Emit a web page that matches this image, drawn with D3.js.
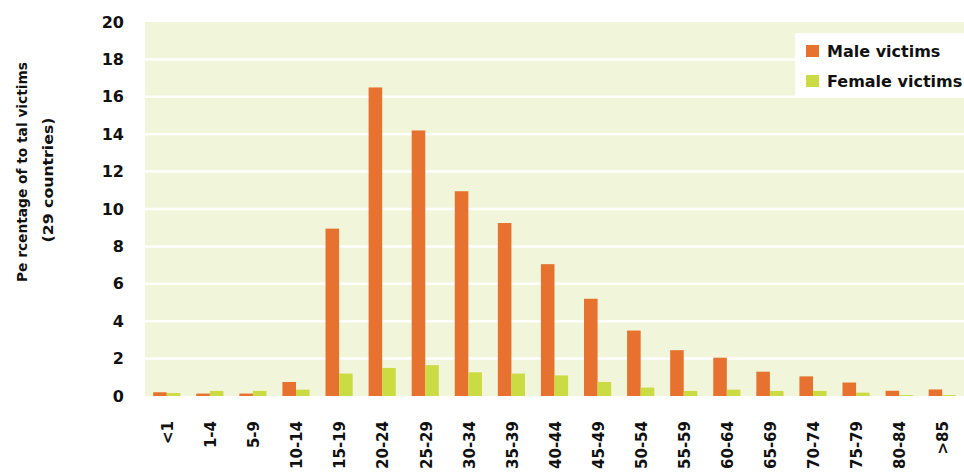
<!DOCTYPE html>
<html>
<head>
<meta charset="utf-8">
<script src="https://cdn.jsdelivr.net/npm/d3@7"></script>
<style>
  body { margin: 0; background: #fff; }
  text { font-family: "DejaVu Sans", sans-serif; font-weight: bold; fill: #111; }
</style>
</head>
<body>
<div id="viz"></div>
<script>
// age groups and shares of total victims (%)
var ageGroups = ["<1","1-4","5-9","10-14","15-19","20-24","25-29","30-34","35-39","40-44",
                 "45-49","50-54","55-59","60-64","65-69","70-74","75-79","80-84",">85"];
var maleValues   = [0.2, 0.13, 0.13, 0.75, 8.95, 16.5, 14.2, 10.95, 9.25, 7.05,
                    5.2, 3.5, 2.45, 2.05, 1.3, 1.05, 0.72, 0.28, 0.35];
var femaleValues = [0.16, 0.27, 0.27, 0.34, 1.2, 1.5, 1.65, 1.27, 1.2, 1.1,
                    0.75, 0.45, 0.27, 0.34, 0.27, 0.27, 0.18, 0.05, 0.05];
var seriesNames  = ["Male victims", "Female victims"];
var yTicks = [0, 2, 4, 6, 8, 10, 12, 14, 16, 18, 20];

var width = 964, height = 472;
var margin = {top: 22, right: 0, bottom: 76, left: 145};

var colors = ["#e7722f", "#cbdb43"];

var svg = d3.select("#viz")
            .append("svg")
            .attr("width", width)
            .attr("height", height);

var x0 = d3.scaleBand()
    .domain(ageGroups)
    .range([margin.left, width - margin.right])
    .paddingInner(0.37)
    .paddingOuter(0.19);

var x1 = d3.scaleBand()
    .domain([0, 1])
    .range([0, x0.bandwidth()]);

var y = d3.scaleLinear()
    .domain([0, 20])
    .range([height - margin.bottom, margin.top]);

// plot background
svg.append("rect")
    .attr("x", margin.left)
    .attr("y", y(20))
    .attr("width", width - margin.right - margin.left)
    .attr("height", y(0) - y(20))
    .style("fill", "#f1f5d9");

// white gridlines
svg.append("g")
    .selectAll("line")
    .data(yTicks.filter(function(d) { return d > 0 && d < 20; }))
  .enter().append("line")
    .attr("x1", margin.left)
    .attr("x2", width - margin.right)
    .attr("y1", function(d) { return y(d); })
    .attr("y2", function(d) { return y(d); })
    .style("stroke", "#fff")
    .style("stroke-width", 2.5);

// y axis labels
var yAxis = d3.axisLeft(y).tickValues(yTicks).tickSize(0).tickPadding(0);
svg.append("g")
    .attr("transform", "translate(" + (margin.left - 21) + ",0)")
    .call(yAxis)
    .call(function(g) { g.select(".domain").remove(); })
    .selectAll("text")
      .style("font-size", "16px")
      .style("font-family", "'DejaVu Sans', sans-serif")
      .style("font-weight", "bold")
      .style("fill", "#111");

// bars
var groups = svg.append("g")
  .selectAll("g")
    .data(ageGroups)
  .enter().append("g")
    .attr("transform", function(d) { return "translate(" + x0(d) + ",0)"; });

groups.selectAll("rect")
    .data(function(d, i) { return [maleValues[i], femaleValues[i]]; })
  .enter().append("rect")
    .attr("x", function(d, j) { return x1(j); })
    .attr("y", function(d) { return y(d); })
    .attr("width", x1.bandwidth())
    .attr("height", function(d) { return y(0) - y(d); })
    .style("fill", function(d, j) { return colors[j]; });

// x labels, rotated
svg.append("g")
  .selectAll("text")
    .data(ageGroups)
  .enter().append("text")
    .attr("transform", function(d) {
      return "translate(" + (x0(d) + x0.bandwidth() / 2 + 1) + ",421) rotate(-90)";
    })
    .attr("text-anchor", "end")
    .attr("dy", "0.35em")
    .style("font-size", "15px")
    .text(function(d) { return d; });

// y axis title
var title = svg.append("g").attr("class", "ytitle");
title.append("text")
    .attr("transform", "translate(22,172) rotate(-90)")
    .attr("text-anchor", "middle")
    .attr("dy", "0.35em")
    .attr("textLength", 220)
    .attr("lengthAdjust", "spacingAndGlyphs")
    .style("font-size", "14px")
    .text("Pe rcentage of to tal victims");
title.append("text")
    .attr("transform", "translate(48,180) rotate(-90)")
    .attr("text-anchor", "middle")
    .attr("dy", "0.35em")
    .attr("textLength", 125)
    .attr("lengthAdjust", "spacingAndGlyphs")
    .style("font-size", "14px")
    .text("(29 countries)");

// legend
var legend = svg.append("g").attr("class", "legend");
legend.append("rect")
    .attr("x", 795)
    .attr("y", 33)
    .attr("width", width - 795)
    .attr("height", 64)
    .style("fill", "#fff");

var ls_w = 13, ls_h = 12;
var items = legend.selectAll("g.item")
    .data(seriesNames)
  .enter().append("g")
    .attr("class", "item")
    .attr("transform", function(d, i) { return "translate(806," + (45 + i * 30) + ")"; });

items.append("rect")
    .attr("width", ls_w)
    .attr("height", ls_h)
    .style("fill", function(d, i) { return colors[i]; });

items.append("text")
    .attr("x", 21)
    .attr("y", ls_h / 2)
    .attr("dy", "0.35em")
    .style("font-size", "16px")
    .text(function(d) { return d; });
</script>
</body>
</html>
